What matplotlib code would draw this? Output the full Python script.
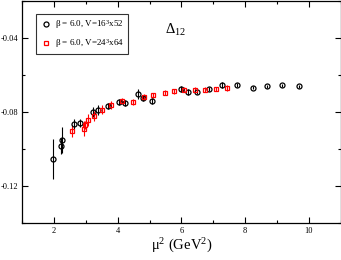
import numpy as np
import matplotlib
matplotlib.use("Agg")
import matplotlib.pyplot as plt
from matplotlib.ticker import MultipleLocator

plt.rcParams['font.family'] = ['Liberation Serif', 'DejaVu Serif']
plt.rcParams['mathtext.fontset'] = 'custom'
plt.rcParams['mathtext.rm'] = 'Liberation Serif'
plt.rcParams['mathtext.it'] = 'Liberation Serif'
plt.rcParams['mathtext.default'] = 'rm'

# DATA: beta=6.0, V=16^3x52 (black circles)
mu2_a = [1.98, 2.22, 2.26, 2.64, 2.82, 3.22, 3.39, 3.68, 4.05, 4.23,
         4.63, 4.80, 5.09, 5.99, 6.22, 6.49, 6.87, 7.29, 7.76, 8.26,
         8.70, 9.16, 9.68]
d12_a = [-0.1053, -0.0982, -0.0953, -0.0865, -0.0860, -0.0801, -0.0788,
         -0.0767, -0.0749, -0.0751, -0.0702, -0.0727, -0.0740, -0.0675,
         -0.0695, -0.0693, -0.0677, -0.0654, -0.0656, -0.0670, -0.0662,
         -0.0657, -0.0662]
err_a = [0.0107, 0.0043, 0.0070, 0.0027, 0.0020, 0.0027, 0.0027, 0.0016,
         0.0016, 0.0016, 0.0027, 0.0016, 0.0016, 0.0016, 0.0016, 0.0010,
         0.0010, 0.0016, 0.0010, 0.0008, 0.0008, 0.0008, 0.0008]

# DATA: beta=6.0, V=24^3x64 (red squares)
mu2_b = [2.55, 2.93, 2.98, 3.08, 3.27, 3.52, 3.80, 4.15, 4.49, 4.81,
         5.12, 5.48, 5.78, 6.08, 6.43, 6.74, 7.08, 7.44]
d12_b = [-0.0904, -0.0892, -0.0869, -0.0842, -0.0823, -0.0788, -0.0763,
         -0.0743, -0.0748, -0.0721, -0.0711, -0.0697, -0.0689, -0.0681,
         -0.0681, -0.0681, -0.0677, -0.0672]
err_b = [0.0032, 0.0040, 0.0022, 0.0032, 0.0027, 0.0022, 0.0020, 0.0016,
         0.0016, 0.0016, 0.0013, 0.0013, 0.0013, 0.0013, 0.0013, 0.0013,
         0.0013, 0.0016]

fig = plt.figure(figsize=(3.41, 2.60), dpi=100)
ax = fig.add_axes([0.065, 0.142, 0.934, 0.856])

ax.errorbar(mu2_a, d12_a, yerr=err_a, fmt='o', mfc='none', mec='black',
            ecolor='black', ms=3.6, mew=0.9, elinewidth=0.8, capsize=0)
ax.errorbar(mu2_b, d12_b, yerr=err_b, fmt='s', mfc='none', mec='red',
            ecolor='red', ms=3.4, mew=0.9, elinewidth=0.8, capsize=0)

# legend handles (markers only)
h1, = ax.plot([], [], 'o', mfc='none', mec='black', ms=3.6, mew=0.9,
              label='β = 6.0, V=16$^3$x52')
h2, = ax.plot([], [], 's', mfc='none', mec='red', ms=3.4, mew=0.9,
              label='β = 6.0, V=24$^3$x64')

ax.set_xlim(1, 11)
ax.set_ylim(-0.14, -0.02)
ax.xaxis.set_major_locator(MultipleLocator(2))
ax.xaxis.set_minor_locator(MultipleLocator(1))
ax.set_yticks([-0.04, -0.08, -0.12])
ax.set_yticklabels(['-0.04', '-0.08', '-0.12'])
ax.yaxis.set_minor_locator(MultipleLocator(0.02))
ax.tick_params(which='both', direction='in', top=True, right=True,
               labelsize=6, width=0.8, pad=3)
ax.tick_params(which='major', length=4)
ax.tick_params(which='minor', length=2.5)
for s in ax.spines.values():
    s.set_linewidth(0.9)

ax.set_xlabel('μ$^2$ (GeV$^2$)', fontsize=10.5, labelpad=1)

ax.text(0.448, 0.87, 'Δ$_{12}$', transform=ax.transAxes, fontsize=10.5,
        va='center')

leg = ax.legend(handles=[h1, h2], loc='upper left',
                bbox_to_anchor=(0.045, 0.94), fontsize=6.5,
                frameon=True, fancybox=False, edgecolor='black',
                handletextpad=0.5, borderpad=0.5, labelspacing=0.6,
                handlelength=1.0, borderaxespad=0)
leg.get_frame().set_linewidth(0.8)

fig.savefig("out.png", dpi=100)
